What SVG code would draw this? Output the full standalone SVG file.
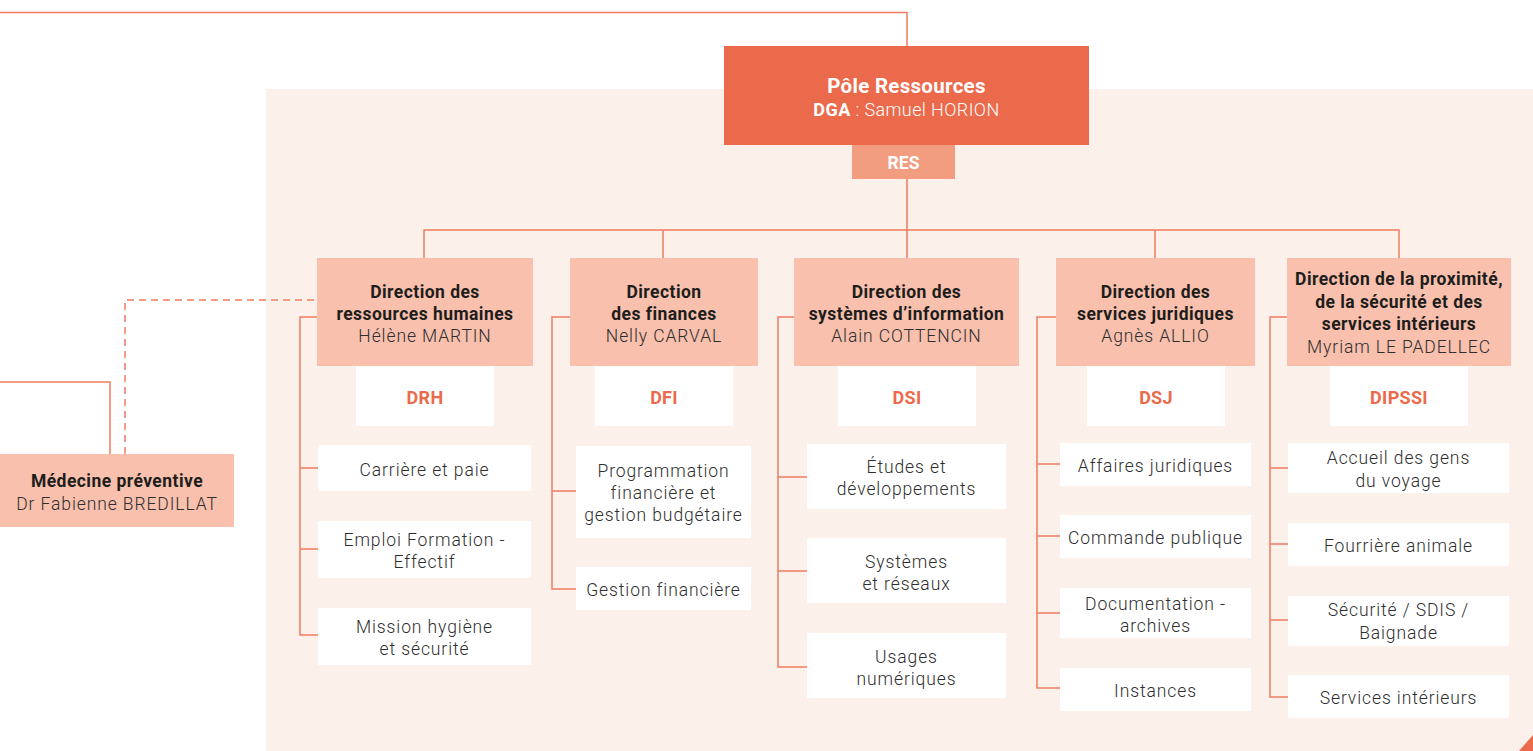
<svg xmlns="http://www.w3.org/2000/svg" width="1533" height="751" viewBox="0 0 1533 751">
<style>
text{font-family:Roboto,"Liberation Sans",sans-serif;text-anchor:middle}
.t{font-weight:700;font-size:17.5px;letter-spacing:0.45px;fill:#1d1d1b}
.n{font-weight:300;font-size:17.5px;letter-spacing:0.9px;fill:#2e2e2e}
.c{font-weight:700;font-size:18px;letter-spacing:0.3px;fill:#ec6a4c}
.w{fill:#ffffff}
.dir{fill:#f8c0ad}
.code{fill:#ffffff}
.svc{fill:#ffffff}
.ln{fill:none;stroke:#ef7b5f;stroke-width:1.5}
.dash{fill:none;stroke:#ef7b5f;stroke-width:1.5;stroke-dasharray:7 5}
</style>
<rect x="266" y="89" width="1267" height="662" fill="#fcf0eb"/>
<polygon points="1519,751 1533,751 1533,735" fill="#ec6a4c"/>

<g id="connectors">
<polyline class="ln" points="0,12.5 907,12.5 907,46" stroke="#ec6a4c"/>
<line class="ln" x1="907" y1="179" x2="907" y2="258"/>
<polyline class="ln" points="424,258 424,230 1399,230 1399,258"/>
<line class="ln" x1="663" y1="230" x2="663" y2="258"/>
<line class="ln" x1="1155" y1="230" x2="1155" y2="258"/>
<polyline class="ln" points="317,317 300,317 300,635 318,635"/>
<line class="ln" x1="300" y1="468" x2="318" y2="468"/>
<line class="ln" x1="300" y1="549" x2="318" y2="549"/>
<polyline class="ln" points="570,317 552,317 552,589 576,589"/>
<line class="ln" x1="552" y1="491" x2="576" y2="491"/>
<polyline class="ln" points="794,317 778,317 778,667 807,667"/>
<line class="ln" x1="778" y1="477" x2="807" y2="477"/>
<line class="ln" x1="778" y1="571" x2="807" y2="571"/>
<polyline class="ln" points="1056,317 1037,317 1037,688 1060,688"/>
<line class="ln" x1="1037" y1="464" x2="1060" y2="464"/>
<line class="ln" x1="1037" y1="536" x2="1060" y2="536"/>
<line class="ln" x1="1037" y1="613" x2="1060" y2="613"/>
<polyline class="ln" points="1287,317 1270,317 1270,697 1288,697"/>
<line class="ln" x1="1270" y1="468" x2="1288" y2="468"/>
<line class="ln" x1="1270" y1="544" x2="1288" y2="544"/>
<line class="ln" x1="1270" y1="620" x2="1288" y2="620"/>
<polyline class="ln" points="0,382 110,382 110,454"/>
<polyline class="dash" points="125,454 125,300 317,300"/>
</g>

<g id="pole">
<rect x="724" y="46" width="365" height="99" fill="#ec6a4c"/>
<text x="906.5" y="93" class="w" font-weight="700" font-size="20.5" letter-spacing="0.3">Pôle Ressources</text>
<text x="906.5" y="116" class="w" font-size="18" font-weight="300" letter-spacing="0.4"><tspan font-weight="700">DGA</tspan> : Samuel HORION</text>
<rect x="852" y="145" width="103" height="34" fill="#f29d80"/>
<text x="903.5" y="168.5" class="w" font-weight="700" font-size="17.5">RES</text>
</g>

<g id="medecine">
<rect x="0" y="454" width="234" height="73" class="dir"/>
<text x="117" y="487" class="t">Médecine préventive</text>
<text x="117" y="509.5" class="n">Dr Fabienne BREDILLAT</text>
</g>

<g id="drh">
<rect x="317" y="258" width="216" height="108" class="dir"/>
<text x="425" y="297.5" class="t">Direction des</text>
<text x="425" y="319.5" class="t">ressources humaines</text>
<text x="425" y="341.5" class="n">Hélène MARTIN</text>
<rect x="356" y="366" width="138" height="60" class="code"/>
<text x="425" y="404" class="c">DRH</text>
</g>
<g id="drh-carriere"><rect x="318" y="445" width="213" height="46" class="svc"/><text x="424.5" y="476" class="n">Carrière et paie</text></g>
<g id="drh-emploi"><rect x="318" y="521" width="213" height="57" class="svc"/><text x="424.5" y="546" class="n">Emploi Formation -</text><text x="424.5" y="568" class="n">Effectif</text></g>
<g id="drh-mission"><rect x="318" y="608" width="213" height="57" class="svc"/><text x="424.5" y="633" class="n">Mission hygiène</text><text x="424.5" y="655" class="n">et sécurité</text></g>

<g id="dfi">
<rect x="570" y="258" width="188" height="108" class="dir"/>
<text x="664" y="297.5" class="t">Direction</text>
<text x="664" y="319.5" class="t">des finances</text>
<text x="664" y="341.5" class="n">Nelly CARVAL</text>
<rect x="595" y="366" width="138" height="60" class="code"/>
<text x="664" y="404" class="c">DFI</text>
</g>
<g id="dfi-prog"><rect x="576" y="446" width="175" height="92" class="svc"/><text x="663.5" y="477" class="n">Programmation</text><text x="663.5" y="499" class="n">financière et</text><text x="663.5" y="521" class="n">gestion budgétaire</text></g>
<g id="dfi-gestion"><rect x="576" y="567" width="175" height="43" class="svc"/><text x="663.5" y="596" class="n">Gestion financière</text></g>

<g id="dsi">
<rect x="794" y="258" width="225" height="108" class="dir"/>
<text x="906.5" y="297.5" class="t">Direction des</text>
<text x="906.5" y="319.5" class="t">systèmes d’information</text>
<text x="906.5" y="341.5" class="n">Alain COTTENCIN</text>
<rect x="838" y="366" width="138" height="60" class="code"/>
<text x="907" y="404" class="c">DSI</text>
</g>
<g id="dsi-etudes"><rect x="807" y="444" width="199" height="65" class="svc"/><text x="906.5" y="473" class="n">Études et</text><text x="906.5" y="495" class="n">développements</text></g>
<g id="dsi-systemes"><rect x="807" y="538" width="199" height="65" class="svc"/><text x="906.5" y="567.5" class="n">Systèmes</text><text x="906.5" y="590" class="n">et réseaux</text></g>
<g id="dsi-usages"><rect x="807" y="633" width="199" height="65" class="svc"/><text x="906.5" y="662.5" class="n">Usages</text><text x="906.5" y="684.5" class="n">numériques</text></g>

<g id="dsj">
<rect x="1056" y="258" width="199" height="108" class="dir"/>
<text x="1155.5" y="297.5" class="t">Direction des</text>
<text x="1155.5" y="319.5" class="t">services juridiques</text>
<text x="1155.5" y="341.5" class="n">Agnès ALLIO</text>
<rect x="1087" y="366" width="138" height="60" class="code"/>
<text x="1156" y="404" class="c">DSJ</text>
</g>
<g id="dsj-affaires"><rect x="1060" y="443" width="191" height="43" class="svc"/><text x="1155.5" y="472" class="n">Affaires juridiques</text></g>
<g id="dsj-commande"><rect x="1060" y="515" width="191" height="43" class="svc"/><text x="1155.5" y="544" class="n">Commande publique</text></g>
<g id="dsj-doc"><rect x="1060" y="588" width="191" height="50" class="svc"/><text x="1155.5" y="610" class="n">Documentation -</text><text x="1155.5" y="632" class="n">archives</text></g>
<g id="dsj-instances"><rect x="1060" y="668" width="191" height="43" class="svc"/><text x="1155.5" y="697" class="n">Instances</text></g>

<g id="dipssi">
<rect x="1287" y="258" width="224" height="108" class="dir"/>
<text x="1399" y="285" class="t">Direction de la proximité,</text>
<text x="1399" y="307.5" class="t">de la sécurité et des</text>
<text x="1399" y="330" class="t">services intérieurs</text>
<text x="1399" y="353" class="n">Myriam LE PADELLEC</text>
<rect x="1330" y="366" width="138" height="60" class="code"/>
<text x="1399" y="404" class="c">DIPSSI</text>
</g>
<g id="dipssi-accueil"><rect x="1288" y="443" width="221" height="50" class="svc"/><text x="1398.5" y="464" class="n">Accueil des gens</text><text x="1398.5" y="487" class="n">du voyage</text></g>
<g id="dipssi-fourriere"><rect x="1288" y="523" width="221" height="43" class="svc"/><text x="1398.5" y="552" class="n">Fourrière animale</text></g>
<g id="dipssi-securite"><rect x="1288" y="596" width="221" height="50" class="svc"/><text x="1398.5" y="616" class="n">Sécurité / SDIS /</text><text x="1398.5" y="638.5" class="n">Baignade</text></g>
<g id="dipssi-interieurs"><rect x="1288" y="675" width="221" height="43" class="svc"/><text x="1398.5" y="704" class="n">Services intérieurs</text></g>
</svg>
